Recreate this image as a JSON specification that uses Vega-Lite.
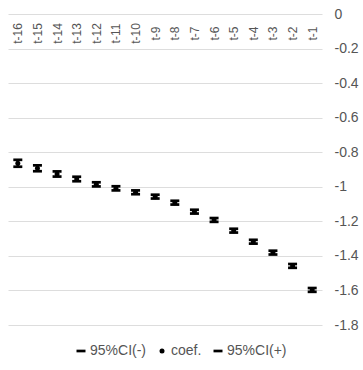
{
  "$schema": "https://vega.github.io/schema/vega-lite/v6.json",
  "width": 314,
  "height": 311,
  "padding": {"left": 8, "top": 14, "right": 41, "bottom": 45},
  "autosize": {"type": "none"},
  "config": {
    "view": {"stroke": null},
    "font": "Liberation Sans",
    "axis": {"labelFont": "Liberation Sans", "labelColor": "#555555"}
  },
  "data": {
    "values": [
      {"t": "t-16", "coef": -0.864, "lo": -0.884, "hi": -0.844},
      {"t": "t-15", "coef": -0.893, "lo": -0.910, "hi": -0.876},
      {"t": "t-14", "coef": -0.926, "lo": -0.941, "hi": -0.911},
      {"t": "t-13", "coef": -0.955, "lo": -0.968, "hi": -0.942},
      {"t": "t-12", "coef": -0.986, "lo": -0.998, "hi": -0.974},
      {"t": "t-11", "coef": -1.009, "lo": -1.021, "hi": -0.997},
      {"t": "t-10", "coef": -1.032, "lo": -1.043, "hi": -1.021},
      {"t": "t-9", "coef": -1.057, "lo": -1.068, "hi": -1.046},
      {"t": "t-8", "coef": -1.092, "lo": -1.103, "hi": -1.081},
      {"t": "t-7", "coef": -1.144, "lo": -1.155, "hi": -1.133},
      {"t": "t-6", "coef": -1.192, "lo": -1.203, "hi": -1.181},
      {"t": "t-5", "coef": -1.254, "lo": -1.265, "hi": -1.243},
      {"t": "t-4", "coef": -1.318, "lo": -1.329, "hi": -1.307},
      {"t": "t-3", "coef": -1.381, "lo": -1.392, "hi": -1.370},
      {"t": "t-2", "coef": -1.458, "lo": -1.469, "hi": -1.447},
      {"t": "t-1", "coef": -1.597, "lo": -1.608, "hi": -1.586}
    ]
  },
  "encoding": {
    "x": {
      "field": "t",
      "type": "ordinal",
      "sort": null,
      "scale": {"type": "point", "padding": 0.5},
      "axis": {
        "title": null,
        "orient": "top",
        "offset": -19,
        "labelAngle": -90,
        "labelAlign": "center",
        "labelBaseline": "middle",
        "labelPadding": 0,
        "labelFontSize": 12,
        "labelOverlap": false,
        "ticks": false,
        "domain": false,
        "grid": false
      }
    }
  },
  "layer": [
    {
      "mark": {"type": "rule", "color": "black", "strokeWidth": 2.5},
      "encoding": {
        "y": {
          "field": "lo",
          "type": "quantitative",
          "scale": {"domain": [-1.8, 0], "nice": false, "zero": false},
          "axis": {
            "title": null,
            "orient": "right",
            "values": [0, -0.2, -0.4, -0.6, -0.8, -1, -1.2, -1.4, -1.6, -1.8],
            "labelExpr": "toString(datum.value)",
            "labelOverlap": false,
            "labelFlush": false,
            "labelFontSize": 14,
            "grid": true,
            "gridColor": "#dddddd",
            "domain": false,
            "ticks": false,
            "labelPadding": 12,
            "labelAlign": "left",
            "labelBaseline": "middle"
          }
        },
        "y2": {"field": "hi"}
      }
    },
    {
      "transform": [{"fold": ["lo", "coef", "hi"], "as": ["key", "value"]}],
      "mark": {"type": "point", "filled": true, "color": "black", "strokeWidth": 0, "opacity": 1},
      "encoding": {
        "y": {
          "field": "value",
          "type": "quantitative",
          "axis": {
            "title": null,
            "orient": "right",
            "values": [0, -0.2, -0.4, -0.6, -0.8, -1, -1.2, -1.4, -1.6, -1.8],
            "labelExpr": "toString(datum.value)",
            "labelOverlap": false,
            "labelFlush": false,
            "labelFontSize": 14,
            "grid": true,
            "gridColor": "#dddddd",
            "domain": false,
            "ticks": false,
            "labelPadding": 12,
            "labelAlign": "left",
            "labelBaseline": "middle"
          }
        },
        "shape": {
          "field": "key",
          "type": "nominal",
          "scale": {"type": "ordinal", "domain": ["lo", "coef", "hi"], "range": ["M-1,-0.3H1V0.3H-1Z", "circle", "M-1,-0.3H1V0.3H-1Z"]},
          "legend": {
            "title": null,
            "orient": "none",
            "direction": "horizontal",
            "legendX": 66,
            "legendY": 330,
            "labelExpr": "datum.label == 'lo' ? '95%CI(-)' : datum.label == 'hi' ? '95%CI(+)' : 'coef.'",
            "labelFontSize": 14,
            "labelColor": "#555555",
            "labelFont": "Liberation Sans",
            "columnPadding": 8,
            "labelOffset": 2
          }
        },
        "size": {
          "field": "key",
          "type": "nominal",
          "scale": {"type": "ordinal", "domain": ["lo", "coef", "hi"], "range": [81, 25, 81]},
          "legend": {
            "title": null,
            "orient": "none",
            "direction": "horizontal",
            "legendX": 66,
            "legendY": 330,
            "labelExpr": "datum.label == 'lo' ? '95%CI(-)' : datum.label == 'hi' ? '95%CI(+)' : 'coef.'",
            "labelFontSize": 14,
            "labelColor": "#555555",
            "labelFont": "Liberation Sans",
            "columnPadding": 8,
            "labelOffset": 2
          }
        }
      }
    }
  ]
}
